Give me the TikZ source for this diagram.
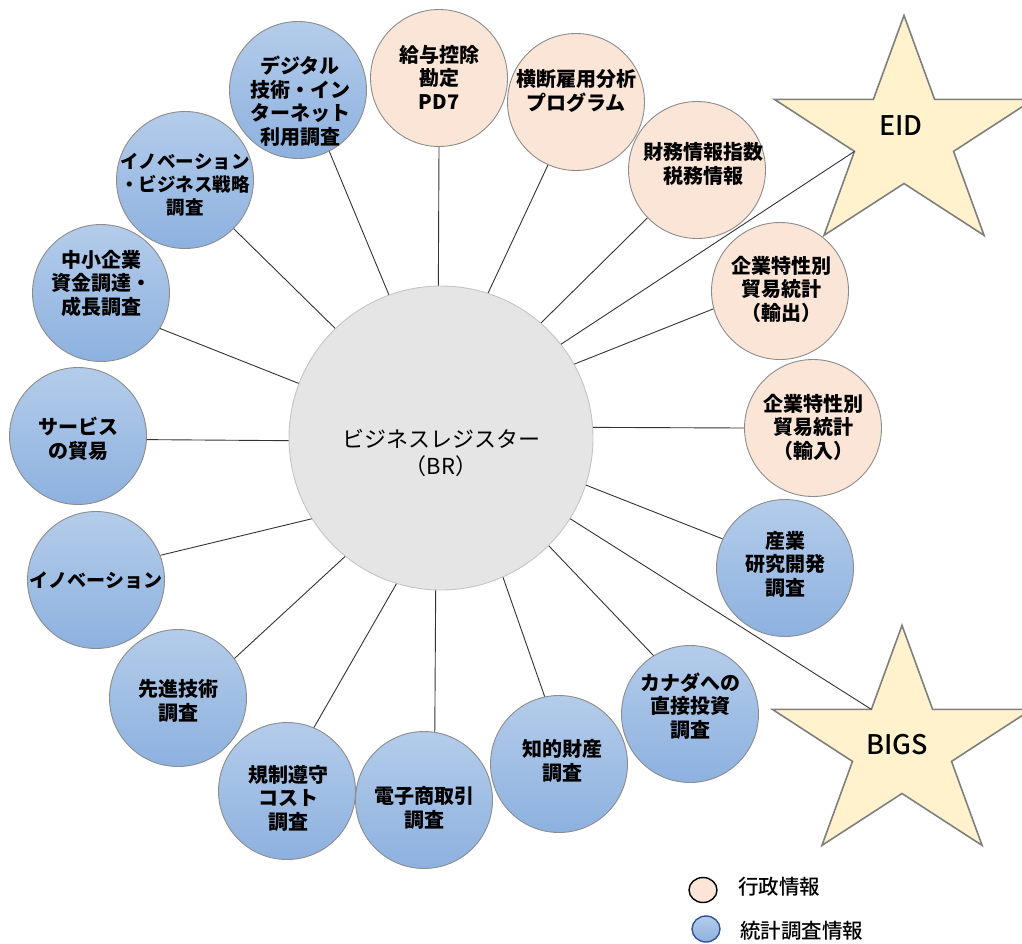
\documentclass[tikz,border=0pt]{standalone}
\usepackage{fontspec}
\usetikzlibrary{shapes.geometric}
\newfontfamily\jp{Noto Sans CJK JP}
\newfontfamily\jpm{Noto Sans CJK JP}[UprightFont={* Medium}]
\definecolor{peach}{HTML}{FBE5D6}
\definecolor{bTop}{HTML}{B4CCEA}
\definecolor{bBot}{HTML}{8DB1DF}
\definecolor{circGray}{HTML}{8C8C8C}
\definecolor{brFill}{HTML}{E5E5E5}
\definecolor{brEdge}{HTML}{C4C4C4}
\definecolor{starFill}{HTML}{FFF2CC}
\definecolor{starEdge}{HTML}{7F7F7F}
\definecolor{legBlue}{HTML}{2F5597}
\tikzset{
  survey/.style={circle, draw=circGray, line width=0.9pt, top color=bTop, bottom color=bBot, minimum size=137pt, inner sep=0pt},
  admin/.style={circle, draw=circGray, line width=0.9pt, fill=peach, minimum size=137pt, inner sep=0pt},
  brnode/.style={circle, draw=brEdge, line width=0.9pt, fill=brFill, minimum size=304pt, inner sep=0pt},
  lbl/.style={font=\jp\bfseries\fontsize{20}{23.5}\selectfont, align=center, inner sep=0pt},
  brlbl/.style={font=\jp\fontsize{22}{27}\selectfont, align=center, inner sep=0pt},
  starlbl/.style={font=\jpm\fontsize{27}{30}\selectfont, inner sep=0pt},
  leglbl/.style={font=\jpm\fontsize{20.5}{24}\selectfont, anchor=west, inner sep=0pt},
  starshape/.style={draw=starEdge, line width=1.6pt, fill=starFill, line join=miter},
  link/.style={draw=black!80, line width=0.9pt}
}
\begin{document}
\begin{tikzpicture}[x=1pt,y=-1pt]
\useasboundingbox (0,0) rectangle (1022,943);

% stars
\begin{scope}[shift={(904,137)}, xscale=1.12, yscale=-1]
  \draw[starshape] (90:121.6) -- (126:46.5) -- (162:121.6) -- (198:46.5) -- (234:121.6) -- (270:46.5) -- (306:121.6) -- (342:46.5) -- (18:121.6) -- (54:46.5) -- cycle;
  \coordinate (EIDin) at (198:46.5);
\end{scope}
\begin{scope}[shift={(902,747)}, xscale=1.12, yscale=-1]
  \draw[starshape] (90:121.6) -- (126:46.5) -- (162:121.6) -- (198:46.5) -- (234:121.6) -- (270:46.5) -- (306:121.6) -- (342:46.5) -- (18:121.6) -- (54:46.5) -- cycle;
  \coordinate (BIGSin) at (126:46.5);
\end{scope}
\node[starlbl] (EIDt) at (901,126) {EID};
\node[starlbl] (BIGSt) at (897,745) {BIGS};

% central node
\node[brnode] (BR) at (441,438) {};
\node[brlbl] (BRt) at (441,453) {ビジネスレジスター\\（BR）};

% surrounding nodes
\node[survey] (dig) at (298,90) {};
\node[admin]  (pd7) at (439,78) {};
\node[admin]  (odb) at (576,102) {};
\node[admin]  (fin) at (697,170) {};
\node[admin]  (exp) at (780,291) {};
\node[admin]  (imp) at (813,428) {};
\node[survey] (rnd) at (785,568) {};
\node[survey] (fdi) at (690,714) {};
\node[survey] (ip)  at (559,764) {};
\node[survey] (ec)  at (424,800) {};
\node[survey] (reg) at (287,791) {};
\node[survey] (adv) at (178,698) {};
\node[survey] (inn) at (96,580) {};
\node[survey] (srv) at (78,436) {};
\node[survey] (sme) at (101,293) {};
\node[survey] (ibs) at (185,180) {};

\node[lbl] (digt) at (300,101) {デジタル\\技術・イン\\ターネット\\利用調査};
\node[lbl] (pd7t) at (439,77) {給与控除\\勘定\\PD7};
\node[lbl] (odbt) at (576,91) {横断雇用分析\\プログラム};
\node[lbl] (fint) at (703,164) {財務情報指数\\税務情報};
\node[lbl] (expt) at (781,289) {企業特性別\\貿易統計\\（輸出）};
\node[lbl] (impt) at (813,427) {企業特性別\\貿易統計\\（輸入）};
\node[lbl] (rndt) at (785,564) {産業\\研究開発\\調査};
\node[lbl] (fdit) at (690,706) {カナダへの\\直接投資\\調査};
\node[lbl] (ipt)  at (562,761) {知的財産\\調査};
\node[lbl] (ect)  at (424,808) {電子商取引\\調査};
\node[lbl] (regt) at (288,798) {規制遵守\\コスト\\調査};
\node[lbl] (advt) at (178,701) {先進技術\\調査};
\node[lbl, font=\jp\bfseries\fontsize{19}{23}\selectfont] (innt) at (96,580) {イノベーション};
\node[lbl] (srvt) at (78,439) {サービス\\の貿易};
\node[lbl] (smet) at (101,283) {中小企業\\資金調達・\\成長調査};
\node[lbl, font=\jp\bfseries\fontsize{18.5}{23}\selectfont] (ibst) at (185,185) {イノベーション\\・ビジネス戦略\\調査};

% connectors
\draw[link] (BR.110) -- (dig.-63);
\draw[link] (BR.91.5) -- (pd7.-90);
\draw[link] (BR.72) -- (odb.-114);
\draw[link] (BR.49) -- (fin.-136);
\draw[link] (BR.38) -- (EIDin);
\draw[link] (BR.29) -- (exp.195);
\draw[link] (BR.4) -- (imp.180);
\draw[link] (BR.-18) -- (rnd.155);
\draw[link] (BR.-32) -- (BIGSin);
\draw[link] (BR.-45.5) -- (fdi.122);
\draw[link] (BR.-66) -- (ip.102);
\draw[link] (BR.-92) -- (ec.81);
\draw[link] (BR.-107) -- (reg.67);
\draw[link] (BR.-129) -- (adv.35);
\draw[link] (BR.-148) -- (inn.21);
\draw[link] (BR.181) -- (srv.-3);
\draw[link] (BR.159) -- (sme.-31);
\draw[link] (BR.134) -- (ibs.-45);

% legend
\node[ellipse, draw=black, line width=1.4pt, fill=peach, minimum width=28pt, minimum height=25pt, inner sep=0pt] (lg1) at (703,890) {};
\node[ellipse, draw=legBlue, line width=1.4pt, top color=bTop, bottom color=bBot, minimum width=28pt, minimum height=26pt, inner sep=0pt] (lg2) at (706,929) {};
\node[leglbl] (lg1t) at (738,887) {行政情報};
\node[leglbl] (lg2t) at (740,931) {統計調査情報};
\end{tikzpicture}
\end{document}
